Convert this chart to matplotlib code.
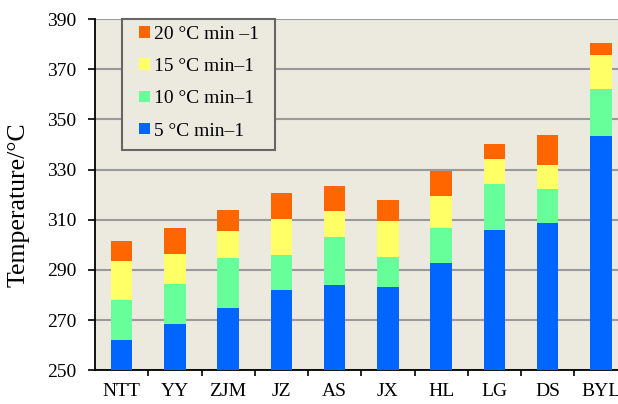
import numpy as np
import matplotlib
matplotlib.use("Agg")
import matplotlib.pyplot as plt
from matplotlib.patches import Patch, Rectangle

plt.rcParams["font.family"] = ["Liberation Serif", "DejaVu Serif"]

samples = ["NTT", "YY", "ZJM", "JZ", "AS", "JX", "HL", "LG", "DS", "BYL"]
rate_labels = ["5 °C min–1", "10 °C min–1", "15 °C min–1", "20 °C min –1"]
t_5 = [262.1, 268.5, 275.0, 282.0, 283.9, 283.1, 292.9, 306.0, 308.6, 343.3]
t_10 = [278.2, 284.5, 294.9, 296.0, 303.3, 295.3, 306.9, 324.3, 322.4, 362.2]
t_15 = [293.7, 296.5, 305.6, 310.1, 313.5, 309.4, 319.4, 334.2, 332.0, 375.8]
t_20 = [301.6, 306.9, 313.7, 320.7, 323.5, 317.9, 329.5, 340.3, 343.7, 380.3]
colors = ["#0066FF", "#66FF99", "#FFFF66", "#FF6600"]
bg = "#ECE9DF"

W, H = 618, 404
fig = plt.figure(figsize=(W / 100, H / 100), dpi=100)
# plot area in pixels: left 95, bottom 370.3, width 532.5 (runs past the right edge)
x0, y0, pw, ph = 95, 370.3, 532.5, 351.3
ax = fig.add_axes([x0 / W, (H - y0) / H, pw / W, ph / H])
ax.set_facecolor(bg)

x = np.arange(len(samples))
# each heating rate is drawn from the axis floor, highest temperature first
for vals, c in zip([t_20, t_15, t_10, t_5], colors[::-1]):
    ax.bar(x, vals, width=0.4, color=c, edgecolor="none", zorder=3)

ax.set_ylim(250, 390)
ax.set_xlim(-0.5, len(samples) - 0.5)
ax.set_yticks(np.arange(250, 391, 20))
ax.yaxis.grid(True, color="#9a9a9a", lw=1.5, zorder=1)
ax.set_axisbelow(True)

ax.set_xticks(x)
ax.set_xticklabels(samples)
ax.set_xticks(np.arange(0.5, len(samples) - 0.5, 1), minor=True)
ax.tick_params(axis="x", which="major", length=0, pad=9, labelsize=14)
ax.tick_params(axis="x", which="minor", length=4, width=1.2, direction="out")
ax.tick_params(axis="y", length=5, width=1.2, direction="out", labelsize=14, pad=8.5)

for s in ["top", "right"]:
    ax.spines[s].set_visible(False)
for s in ["left", "bottom"]:
    ax.spines[s].set_linewidth(1.3)

ax.set_ylabel("Temperature/°C", fontsize=18.5)
ax.yaxis.set_label_coords((30 - x0) / pw, (y0 - 205) / ph)

# legend box
frame = Rectangle((122 / W, (H - 150) / H), 153 / W, 131 / H,
                  transform=fig.transFigure, facecolor=bg, edgecolor="#666666",
                  lw=1.5, zorder=6, clip_on=False)
ax.add_patch(frame)

handles = [Patch(facecolor=c, edgecolor="none") for c in colors[::-1]]
leg = ax.legend(handles, rate_labels[::-1], loc="upper left",
                bbox_to_anchor=((139 - x0) / pw, (y0 - 26) / ph), fontsize=14,
                frameon=False, handlelength=0.55, handleheight=0.55,
                handletextpad=0.22, labelspacing=0.78, borderpad=0.0,
                borderaxespad=0.0)
leg.set_zorder(7)

fig.savefig("out.png", dpi=100)
